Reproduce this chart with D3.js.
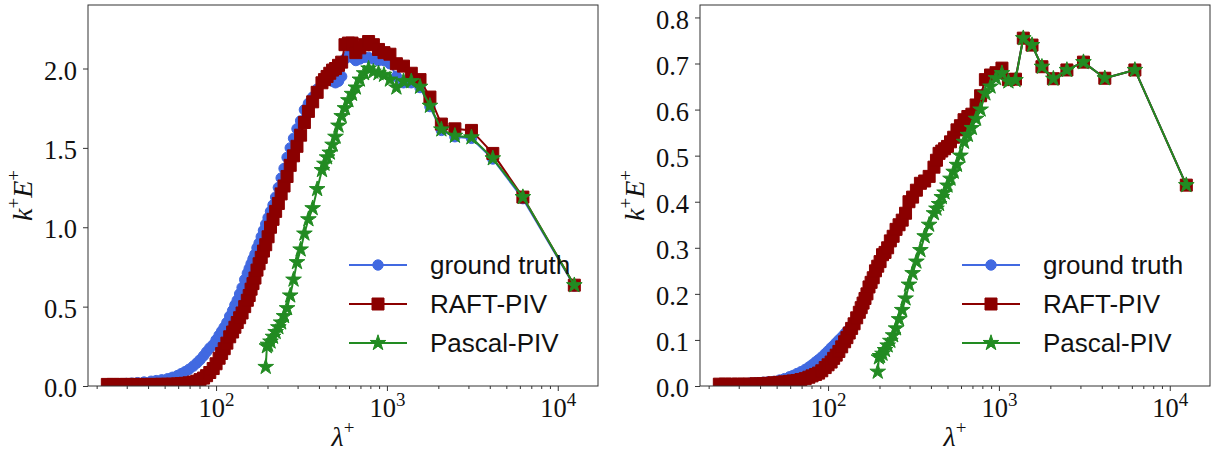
<!DOCTYPE html>
<html>
<head>
<meta charset="utf-8">
<script src="https://cdn.jsdelivr.net/npm/d3@7"></script>
<style>
  body { margin: 0; background: #fff; }
  .tick text { font-family: "Liberation Serif", serif; font-size: 26.5px; fill: #111; }
  .tick line { stroke: #333; }
</style>
</head>
<body>
<svg id="chart" width="1212" height="453"></svg>
<script>
// wavelengths shared by ground truth and RAFT-PIV (ascending)
const lambdaFull = [23.1, 25.0, 27.2, 29.8, 32.1, 34.7, 37.9, 41.7, 44.6, 48.1,
  52.1, 55.6, 59.5, 62.5, 65.8, 69.4, 73.5, 77.2, 80.6, 84.5,
  88.0, 91.9, 96.2, 100, 104.2, 107.8, 111.6, 115.7, 120.2, 125,
  128.9, 133.0, 137.4, 142.0, 147.1, 152.4, 156.3, 160.3, 164.5, 168.9,
  173.6, 178.6, 183.8, 189.4, 195.3, 201.6, 208.3, 215.5, 223.2, 231.5,
  240.4, 250, 260.4, 271.7, 284.1, 297.6, 312.5, 328.9, 347.2, 367.6,
  390.6, 416.7, 431.0, 446.4, 463.0, 480.8, 500, 520.8, 543.5, 568.2,
  595.2, 625, 657.9, 694.4, 735.3, 781.3, 833.3, 892.9, 961.5, 1041.7,
  1136.4, 1250, 1388.9, 1562.5, 1785.7, 2083.3, 2500, 3125, 4166.7, 6250, 12500];

// wavelengths of Pascal-PIV (ascending)
const lambdaPascal = [195.3, 198.4, 201.6, 208.3, 215.5, 223.2, 231.5, 240.4, 250, 260.4,
  271.7, 284.1, 297.6, 312.5, 328.9, 347.2, 367.6, 390.6, 416.7, 431.0,
  446.4, 463.0, 480.8, 500, 520.8, 543.5, 568.2, 595.2, 625, 657.9,
  694.4, 735.3, 781.3, 833.3, 892.9, 961.5, 1041.7, 1136.4, 1250, 1388.9,
  1562.5, 1785.7, 2083.3, 2500, 3125, 4166.7, 6250, 12500];

// left panel
const leftTruth = [0.01, 0.012, 0.014, 0.016, 0.018, 0.021, 0.025, 0.03, 0.034, 0.039,
  0.046, 0.055, 0.066, 0.078, 0.09, 0.105, 0.125, 0.145, 0.165, 0.19,
  0.215, 0.24, 0.26, 0.29, 0.32, 0.345, 0.37, 0.40, 0.44, 0.475,
  0.51, 0.54, 0.58, 0.62, 0.67, 0.71, 0.74, 0.77, 0.80, 0.83,
  0.87, 0.90, 0.94, 0.98, 1.02, 1.06, 1.10, 1.14, 1.19, 1.25,
  1.31, 1.37, 1.44, 1.50, 1.56, 1.62, 1.67, 1.74, 1.78, 1.82,
  1.87, 1.91, 1.93, 1.94, 1.93, 1.92, 1.91, 1.92, 1.95, 2.06,
  2.08, 2.07, 2.05, 2.06, 2.07, 2.07, 2.06, 2.05, 2.05, 2.03,
  1.95, 1.91, 1.91, 1.88, 1.76, 1.61, 1.57, 1.56, 1.43, 1.18, 0.63];

const leftRaft = [0.01, 0.01, 0.01, 0.01, 0.01, 0.01, 0.01, 0.01, 0.01, 0.011,
  0.011, 0.012, 0.013, 0.015, 0.017, 0.02, 0.025, 0.03, 0.04, 0.05,
  0.065, 0.085, 0.11, 0.14, 0.175, 0.205, 0.235, 0.27, 0.31, 0.34,
  0.37, 0.40, 0.43, 0.46, 0.50, 0.54, 0.57, 0.61, 0.645, 0.68,
  0.73, 0.77, 0.81, 0.85, 0.89, 0.94, 1.00, 1.05, 1.10, 1.15,
  1.21, 1.26, 1.32, 1.39, 1.45, 1.51, 1.58, 1.66, 1.73, 1.79,
  1.85, 1.91, 1.93, 1.95, 1.97, 1.99, 2.00, 2.02, 2.04, 2.15,
  2.16, 2.16, 2.10, 2.13, 2.15, 2.17, 2.15, 2.12, 2.10, 2.09,
  2.03, 2.015, 1.97, 1.93, 1.82, 1.65, 1.62, 1.61, 1.465, 1.19, 0.635];

const leftPascal = [0.12, 0.25, 0.26, 0.28, 0.31, 0.34, 0.37, 0.40, 0.44, 0.49,
  0.57, 0.67, 0.78, 0.86, 0.96, 1.05, 1.12, 1.24, 1.36, 1.40,
  1.44, 1.47, 1.52, 1.57, 1.64, 1.70, 1.75, 1.80, 1.84, 1.88,
  1.93, 1.97, 2.00, 1.98, 1.97, 1.96, 1.93, 1.88, 1.92, 1.92,
  1.885, 1.765, 1.616, 1.576, 1.566, 1.434, 1.19, 0.635];

// right panel
const rightTruth = [0.004, 0.004, 0.004, 0.005, 0.005, 0.006, 0.007, 0.008, 0.009, 0.01,
  0.013, 0.016, 0.02, 0.023, 0.027, 0.031, 0.036, 0.041, 0.046, 0.052,
  0.057, 0.063, 0.07, 0.076, 0.083, 0.088, 0.094, 0.10, 0.106, 0.113,
  0.118, 0.123, 0.13, 0.138, 0.15, 0.16, 0.17, 0.18, 0.19, 0.20,
  0.215, 0.225, 0.235, 0.25, 0.26, 0.27, 0.285, 0.29, 0.30, 0.315,
  0.325, 0.34, 0.35, 0.36, 0.375, 0.40, 0.41, 0.425, 0.44, 0.445,
  0.455, 0.475, 0.49, 0.505, 0.51, 0.515, 0.52, 0.53, 0.54, 0.556,
  0.565, 0.578, 0.585, 0.59, 0.61, 0.63, 0.665, 0.675, 0.68, 0.69,
  0.665, 0.666, 0.755, 0.74, 0.693, 0.667, 0.686, 0.703, 0.668, 0.686, 0.436];

const rightRaft = [0.004, 0.004, 0.004, 0.004, 0.004, 0.004, 0.005, 0.005, 0.006, 0.007,
  0.008, 0.009, 0.01, 0.011, 0.012, 0.014, 0.016, 0.019, 0.022, 0.025,
  0.028, 0.033, 0.04, 0.046, 0.052, 0.06, 0.067, 0.075, 0.085, 0.096,
  0.105, 0.115, 0.125, 0.135, 0.148, 0.16, 0.17, 0.18, 0.19, 0.20,
  0.215, 0.225, 0.235, 0.25, 0.26, 0.27, 0.285, 0.29, 0.30, 0.315,
  0.325, 0.34, 0.35, 0.36, 0.375, 0.40, 0.41, 0.425, 0.44, 0.445,
  0.455, 0.475, 0.49, 0.505, 0.51, 0.515, 0.52, 0.53, 0.54, 0.556,
  0.565, 0.578, 0.585, 0.59, 0.61, 0.63, 0.665, 0.675, 0.68, 0.69,
  0.665, 0.666, 0.755, 0.74, 0.693, 0.667, 0.686, 0.703, 0.668, 0.686, 0.436];

const rightPascal = [0.031, 0.062, 0.065, 0.07, 0.078, 0.088, 0.098, 0.11, 0.125, 0.145,
  0.165, 0.19, 0.22, 0.245, 0.27, 0.295, 0.325, 0.35, 0.375, 0.385,
  0.395, 0.41, 0.42, 0.435, 0.45, 0.465, 0.48, 0.50, 0.53, 0.545,
  0.56, 0.58, 0.60, 0.635, 0.65, 0.668, 0.679, 0.661, 0.664, 0.755,
  0.74, 0.693, 0.667, 0.686, 0.703, 0.668, 0.686, 0.436];

const seriesNames = ["ground truth", "RAFT-PIV", "Pascal-PIV"];
const seriesColors = ["#4169e1", "#8b0000", "#228b22"];
const xMajorTicks = [100, 1000, 10000];
const xTickExponents = ["2", "3", "4"];
const yTicksLeft = [0, 0.5, 1.0, 1.5, 2.0];
const yTicksRight = [0, 0.1, 0.2, 0.3, 0.4, 0.5, 0.6, 0.7, 0.8];

const markers = [
  { type: d3.symbolCircle, size: 85 },
  { type: d3.symbolSquare, size: 144 },
  { type: d3.symbolStar, size: 76 }
];

const svg = d3.select("#chart");

const panels = [
  { id: "l", left: 88, right: 598, yMax: 2.4, yTicks: yTicksLeft,
    series: [[lambdaFull, leftTruth], [lambdaFull, leftRaft], [lambdaPascal, leftPascal]],
    legendX: 349, textX: 430, yLabelX: 32 },
  { id: "r", left: 700, right: 1210, yMax: 0.827, yTicks: yTicksRight,
    series: [[lambdaFull, rightTruth], [lambdaFull, rightRaft], [lambdaPascal, rightPascal]],
    legendX: 962, textX: 1043, yLabelX: 644 }
];
const plotTop = 5, plotBottom = 386;

// minor tick positions of the log axis
const minorTicks = [];
[10, 100, 1000, 10000].forEach(d => {
  for (let k = 2; k < 10; k++) minorTicks.push(d * k);
});

panels.forEach(p => {
  const x = d3.scaleLog().domain([17.8, 17200]).range([p.left, p.right]);
  const y = d3.scaleLinear().domain([0, p.yMax]).range([plotBottom, plotTop]);

  svg.append("clipPath").attr("id", "clip-" + p.id)
    .append("rect")
    .attr("x", p.left).attr("y", plotTop)
    .attr("width", p.right - p.left).attr("height", plotBottom - plotTop);

  // x axis, minor then major
  svg.append("g")
    .attr("transform", "translate(0," + plotBottom + ")")
    .call(d3.axisBottom(x).tickValues(minorTicks.filter(t => t > 17.8 && t < 17200))
      .tickSize(3).tickFormat(""))
    .call(g => g.select(".domain").remove());

  const xg = svg.append("g")
    .attr("transform", "translate(0," + plotBottom + ")")
    .call(d3.axisBottom(x).tickValues(xMajorTicks).tickSize(5).tickFormat(""))
    .call(g => g.select(".domain").remove());

  xg.selectAll(".tick").append("text")
    .attr("y", 30.5)
    .attr("fill", "#111")
    .style("text-anchor", "middle")
    .each(function(d, i) {
      const t = d3.select(this);
      t.append("tspan").text("10");
      t.append("tspan").attr("dy", -11).style("font-size", "19px").text(xTickExponents[i]);
    });

  // y axis
  svg.append("g")
    .attr("transform", "translate(" + p.left + ",0)")
    .call(d3.axisLeft(y).tickValues(p.yTicks).tickSize(5).tickPadding(6)
      .tickFormat(d3.format(".1f")))
    .call(g => g.select(".domain").remove())
    .call(g => g.selectAll(".tick text").attr("dy", "0.4em"));

  // data
  const plot = svg.append("g").attr("clip-path", "url(#clip-" + p.id + ")");
  p.series.forEach((s, i) => {
    const pts = s[0].map((l, j) => [l, s[1][j]]);
    const g = plot.append("g");
    g.append("path")
      .datum(pts)
      .attr("fill", "none")
      .attr("stroke", seriesColors[i])
      .attr("stroke-width", 2)
      .attr("d", d3.line().x(d => x(d[0])).y(d => y(d[1])));
    g.selectAll("path.m")
      .data(pts)
      .enter()
      .append("path")
      .attr("class", "m")
      .attr("d", d3.symbol().type(markers[i].type).size(markers[i].size))
      .attr("transform", d => "translate(" + x(d[0]) + "," + y(d[1]) + ")")
      .attr("fill", seriesColors[i])
      .attr("stroke", seriesColors[i])
      .attr("stroke-width", 1);
  });

  // frame
  svg.append("rect")
    .attr("x", p.left).attr("y", plotTop)
    .attr("width", p.right - p.left).attr("height", plotBottom - plotTop)
    .attr("fill", "none").attr("stroke", "#333").attr("stroke-width", 1);

  // legend
  seriesNames.forEach((name, i) => {
    const cy = 265 + i * 39;
    svg.append("line")
      .attr("x1", p.legendX).attr("x2", p.legendX + 58)
      .attr("y1", cy).attr("y2", cy)
      .attr("stroke", seriesColors[i]).attr("stroke-width", 2);
    svg.append("path")
      .attr("d", d3.symbol().type(markers[i].type).size(markers[i].size))
      .attr("transform", "translate(" + (p.legendX + 29) + "," + cy + ")")
      .attr("fill", seriesColors[i]).attr("stroke", seriesColors[i]);
    svg.append("text")
      .attr("x", p.textX).attr("y", cy).attr("dy", "0.36em")
      .style("font-family", "'Liberation Sans', Arial, sans-serif")
      .style("font-size", "26px")
      .attr("fill", "#111")
      .text(name);
  });

  // axis labels
  const xl = svg.append("text")
    .attr("x", (p.left + p.right) / 2).attr("y", 446)
    .style("font-family", "'Liberation Serif', serif")
    .style("font-size", "28px").style("text-anchor", "middle").attr("fill", "#111");
  xl.append("tspan").style("font-style", "italic").text("λ");
  xl.append("tspan").attr("dy", -12).style("font-size", "19px").text("+");

  const yl = svg.append("text")
    .attr("transform", "translate(" + p.yLabelX + "," + ((plotTop + plotBottom) / 2) + ") rotate(-90)")
    .style("font-family", "'Liberation Serif', serif")
    .style("font-size", "28px").style("text-anchor", "middle").attr("fill", "#111");
  yl.append("tspan").style("font-style", "italic").text("k");
  yl.append("tspan").attr("dy", -12).style("font-size", "19px").text("+");
  yl.append("tspan").attr("dy", 12).style("font-style", "italic").text("E");
  yl.append("tspan").attr("dy", -12).style("font-size", "19px").text("+");
});
</script>
</body>
</html>
